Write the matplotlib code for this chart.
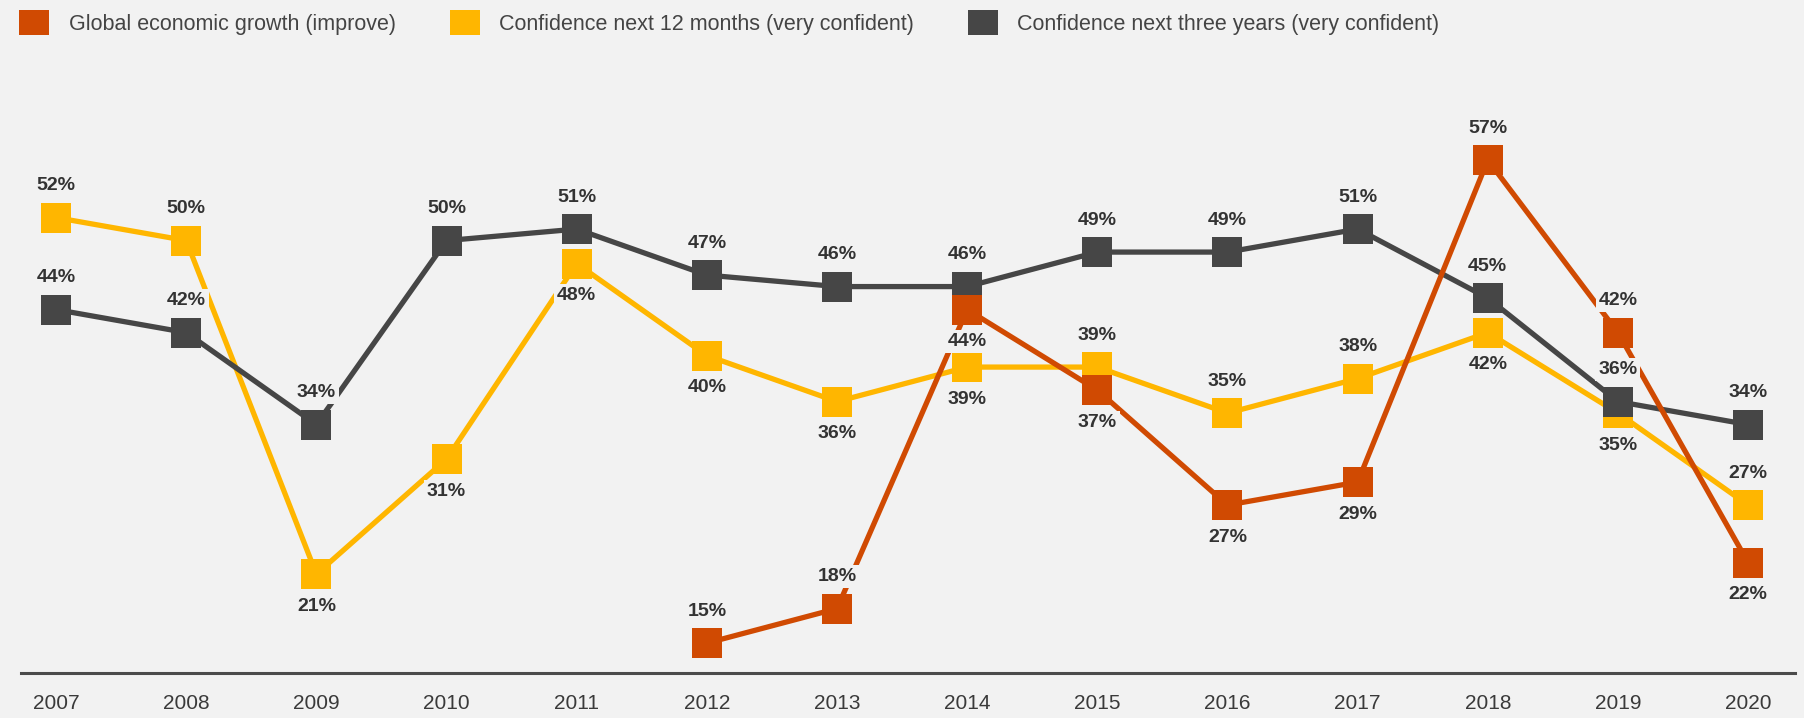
import matplotlib
matplotlib.use('Agg')
import matplotlib.pyplot as plt
from matplotlib.patches import Patch

plt.rcParams['font.family'] = ['Liberation Sans', 'DejaVu Sans']

years = [2007, 2008, 2009, 2010, 2011, 2012, 2013, 2014, 2015, 2016, 2017, 2018, 2019, 2020]

# global economic growth only asked from 2012 on
growth_years = [2012, 2013, 2014, 2015, 2016, 2017, 2018, 2019, 2020]
growth = [15, 18, 44, 37, 27, 29, 57, 42, 22]
conf_12m = [52, 50, 21, 31, 48, 40, 36, 39, 39, 35, 38, 42, 35, 27]
conf_3y = [44, 42, 34, 50, 51, 47, 46, 46, 49, 49, 51, 45, 36, 34]

# label above (1) or below (-1) the marker
growth_pos = [1, 1, -1, -1, -1, -1, 1, 1, -1]
conf_12m_pos = [1, 1, -1, -1, -1, -1, -1, -1, 1, 1, 1, -1, -1, 1]
conf_3y_pos = [1] * 14

names = ['Global economic growth (improve)',
         'Confidence next 12 months (very confident)',
         'Confidence next three years (very confident)']
colors = ['#D04A02', '#FFB600', '#464646']
bg = '#F2F2F2'
txt = '#333333'

fig = plt.figure(figsize=(18.04, 7.18), dpi=100, facecolor=bg)
ax = fig.add_axes([0.0116, 0.0627, 0.9834, 0.8537], facecolor=bg)

series = [
    (years, conf_12m, conf_12m_pos, colors[1], 2),
    (years, conf_3y, conf_3y_pos, colors[2], 3),
    (growth_years, growth, growth_pos, colors[0], 4),
]
for xs, ys, pos, c, z in series:
    ax.plot(xs, ys, color=c, lw=3.8, marker='s', markersize=22,
            markeredgewidth=0, zorder=z, solid_capstyle='butt')
    for x, y, p in zip(xs, ys, pos):
        ax.annotate(f'{y}%', (x, y), xytext=(0, 23 * p), textcoords='offset points',
                    ha='center', va='center', fontsize=14, fontweight='bold', color=txt,
                    bbox=dict(boxstyle='square,pad=0.15', fc=bg, ec='none'), zorder=10)

ax.set_xlim(2006.73, 2020.36)
ax.set_ylim(12.4, 65.7)
ax.set_xticks(years)
ax.set_xticklabels([str(y) for y in years])
ax.set_yticks([])
ax.tick_params(axis='x', length=0, pad=15, labelsize=15, labelcolor='#3a3a3a')
for s in ['top', 'left', 'right']:
    ax.spines[s].set_visible(False)
ax.spines['bottom'].set_color('#4b4b4b')
ax.spines['bottom'].set_linewidth(2.2)

handles = [Patch(facecolor=c, edgecolor='none', label=n) for c, n in zip(colors, names)]
fig.legend(handles=handles, loc='upper left', bbox_to_anchor=(0.0035, 1.004), ncol=3,
           frameon=False, fontsize=15.5, labelcolor='#444444',
           handlelength=1.4, handleheight=1.4, handletextpad=0.9,
           columnspacing=2.5, borderaxespad=0.3, borderpad=0.3)

fig.savefig('out.png', dpi=100, facecolor=bg)
